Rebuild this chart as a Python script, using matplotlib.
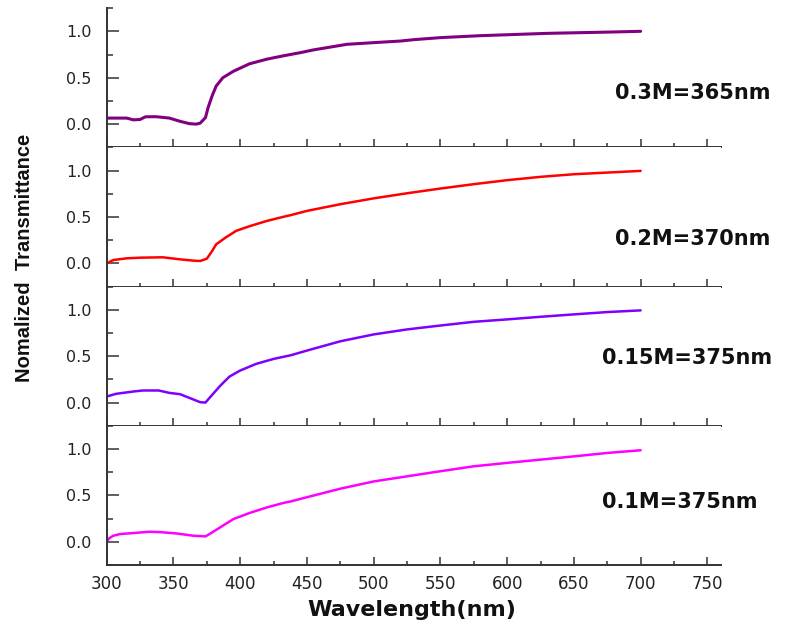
import numpy as np
import matplotlib
matplotlib.use("Agg")
import matplotlib.pyplot as plt
from matplotlib.ticker import MultipleLocator
from matplotlib import font_manager

wl_03 = [300, 315, 320, 325, 329, 337, 347, 355, 362, 367, 370, 374, 376, 379, 382,
         387, 395, 407, 420, 432, 445, 455, 480, 500, 520, 530, 550, 580, 630, 680, 700]
tr_03 = [0.065, 0.065, 0.046, 0.05, 0.079, 0.08, 0.065, 0.03, 0.005, 0.0, 0.01, 0.07, 0.18,
         0.305, 0.41, 0.50, 0.57, 0.65, 0.70, 0.735, 0.77, 0.80, 0.86, 0.878, 0.895, 0.91,
         0.932, 0.953, 0.978, 0.993, 1.0]

wl_02 = [300, 305, 315, 325, 342, 355, 365, 370, 375, 379, 382, 389, 397, 407, 420, 432,
         438, 450, 475, 500, 525, 550, 575, 600, 625, 650, 675, 700]
tr_02 = [0.0, 0.036, 0.054, 0.061, 0.065, 0.043, 0.029, 0.025, 0.05, 0.133, 0.205, 0.277,
         0.35, 0.40, 0.457, 0.50, 0.52, 0.565, 0.637, 0.70, 0.755, 0.806, 0.853, 0.896,
         0.932, 0.96, 0.978, 0.996]

wl_015 = [300, 307, 320, 327, 339, 347, 355, 362, 370, 374, 377, 385, 392, 400, 412, 425,
          438, 450, 475, 500, 525, 550, 575, 600, 625, 650, 675, 700]
tr_015 = [0.065, 0.094, 0.119, 0.13, 0.13, 0.104, 0.09, 0.05, 0.004, 0.0, 0.05, 0.18, 0.28,
          0.345, 0.417, 0.47, 0.51, 0.56, 0.66, 0.734, 0.788, 0.83, 0.87, 0.896, 0.924,
          0.95, 0.975, 0.993]

wl_01 = [300, 302, 305, 310, 320, 332, 340, 352, 365, 374, 377, 385, 395, 407, 420, 432,
         438, 450, 475, 500, 525, 550, 575, 600, 625, 650, 675, 700]
tr_01 = [0.0, 0.04, 0.065, 0.083, 0.094, 0.108, 0.104, 0.09, 0.065, 0.058, 0.083, 0.155,
         0.245, 0.31, 0.37, 0.417, 0.435, 0.48, 0.572, 0.65, 0.705, 0.76, 0.813, 0.85,
         0.885, 0.92, 0.957, 0.986]

labels = ["0.3M=365nm", "0.2M=370nm", "0.15M=375nm", "0.1M=375nm"]
colors = ["#800080", "#FF0000", "#7F00FF", "#FF00FF"]
label_x = [681, 681, 671, 671]
label_y = [0.33, 0.265, 0.48, 0.424]

series = [(wl_03, tr_03), (wl_02, tr_02), (wl_015, tr_015), (wl_01, tr_01)]

names = {f.name for f in font_manager.fontManager.ttflist}
if "Liberation Sans Narrow" in names:
    ylab_font, ylab_size = "Liberation Sans Narrow", 17
else:
    ylab_font, ylab_size = "Liberation Sans", 14.5

plt.rcParams['font.family'] = 'DejaVu Sans'

fig = plt.figure(figsize=(7.88, 6.24), dpi=100)

left, width = 0.1354, 0.7792
h = 0.2231
bottom0 = 0.0946
spine_c = '#333333'

axes = []
for k, ((wl, tr), lab, col, lx, ly) in enumerate(zip(series, labels, colors, label_x, label_y)):
    ax = fig.add_axes([left, bottom0 + (3 - k) * h, width, h])
    ax.plot(wl, tr, color=col, lw=2.2 if k == 0 else 1.8, solid_capstyle='round',
            solid_joinstyle='round')
    ax.set_xlim(300, 760)
    ax.set_ylim(-0.25, 1.25)
    ax.set_yticks([0.0, 0.5, 1.0])
    ax.set_yticklabels(["0.0", "0.5", "1.0"])
    ax.yaxis.set_minor_locator(MultipleLocator(0.25))
    ax.xaxis.set_major_locator(MultipleLocator(50))
    ax.xaxis.set_minor_locator(MultipleLocator(25))
    for s in ['top', 'right']:
        ax.spines[s].set_visible(False)
    for s in ['left', 'bottom']:
        ax.spines[s].set_linewidth(1.4)
        ax.spines[s].set_color(spine_c)
    ax.tick_params(axis='y', which='major', direction='in', length=8.5, width=1.1,
                   color=spine_c, pad=11, labelsize=11.5, labelcolor='#222222')
    ax.tick_params(axis='y', which='minor', direction='in', length=4.5, width=1.1, color=spine_c)
    ax.tick_params(axis='x', which='major', direction='in', length=5.5, width=1.1,
                   color=spine_c, pad=7, labelsize=12, labelcolor='#222222')
    ax.tick_params(axis='x', which='minor', direction='in', length=3, width=1.1, color=spine_c)
    if k < 3:
        ax.tick_params(axis='x', labelbottom=False)
    ax.text(lx, ly, lab, fontsize=15, fontweight='bold', ha='left', va='center',
            color='#111111', clip_on=False)
    axes.append(ax)

fig.text(0.5225, 0.0224, "Wavelength(nm)", fontsize=16, fontweight='bold',
         ha='center', va='center', color='#111111')
fig.text(0.031, 0.586, "Nomalized  Transmittance", rotation=90, ha='center', va='center',
         fontsize=ylab_size, fontweight='bold', family=ylab_font, color='#111111')

fig.savefig("out.png", dpi=100)
plt.close('all')
